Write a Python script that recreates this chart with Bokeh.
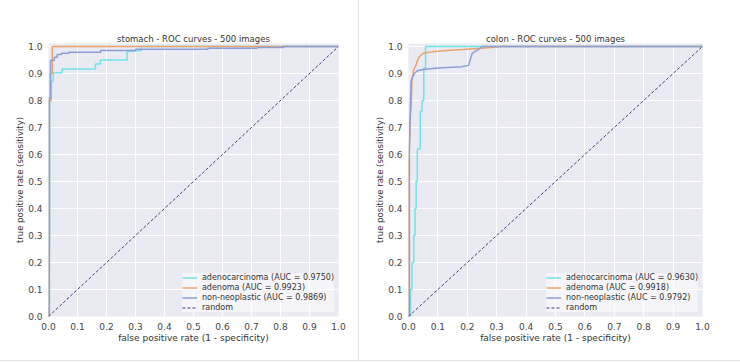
from bokeh.plotting import figure
from bokeh.layouts import row, column
from bokeh.models import FixedTicker, Legend, LegendItem, Spacer, Range1d
from bokeh.embed import file_html
from bokeh.resources import INLINE

# ---------------- data ----------------
tick_values = [0.0, 0.1, 0.2, 0.3, 0.4, 0.5, 0.6, 0.7, 0.8, 0.9, 1.0]
tick_labels = ["0.0", "0.1", "0.2", "0.3", "0.4", "0.5", "0.6", "0.7", "0.8", "0.9", "1.0"]

series_names = ["adenocarcinoma", "adenoma", "non-neoplastic"]

# stomach
stomach_auc = [0.9750, 0.9923, 0.9869]
stomach_adenoca_fpr = [0.0, 0.004, 0.004, 0.010, 0.010, 0.016, 0.016, 0.047, 0.047, 0.162, 0.162, 0.179, 0.179, 0.271, 0.271, 0.32, 0.32, 1.0]
stomach_adenoca_tpr = [0.0, 0.30, 0.80, 0.80, 0.87, 0.87, 0.903, 0.903, 0.917, 0.917, 0.935, 0.935, 0.95, 0.95, 0.98, 0.985, 1.0, 1.0]
stomach_adenoma_fpr = [0.0, 0.002, 0.002, 0.006, 0.006, 0.013, 0.013, 1.0]
stomach_adenoma_tpr = [0.0, 0.03, 0.80, 0.80, 0.90, 0.90, 1.0, 1.0]
stomach_nonneo_fpr = [0.0, 0.003, 0.003, 0.007, 0.007, 0.02, 0.02, 0.03, 0.03, 0.045, 0.045, 0.07, 0.07, 0.18, 0.18, 0.30, 0.30, 0.55, 0.55, 0.72, 0.72, 0.81, 0.81, 1.0]
stomach_nonneo_tpr = [0.0, 0.0, 0.81, 0.81, 0.948, 0.948, 0.96, 0.96, 0.97, 0.97, 0.975, 0.975, 0.979, 0.979, 0.985, 0.985, 0.99, 0.99, 0.993, 0.993, 0.996, 0.996, 1.0, 1.0]

# colon
colon_auc = [0.9630, 0.9918, 0.9792]
colon_adenoca_fpr = [0.0, 0.007, 0.007, 0.012, 0.012, 0.018, 0.018, 0.022, 0.022, 0.026, 0.026, 0.030, 0.030, 0.040, 0.040, 0.046, 0.046, 0.052, 0.052, 0.058, 0.058, 1.0]
colon_adenoca_tpr = [0.0, 0.0, 0.10, 0.10, 0.20, 0.20, 0.30, 0.30, 0.40, 0.40, 0.50, 0.50, 0.62, 0.62, 0.76, 0.76, 0.80, 0.80, 0.92, 0.92, 1.0, 1.0]
colon_adenoma_fpr = [0.0, 0.0, 0.003, 0.005, 0.009, 0.012, 0.017, 0.025, 0.035, 0.05, 0.08, 0.13, 0.20, 0.27, 0.32, 1.0]
colon_adenoma_tpr = [0.0, 0.55, 0.62, 0.72, 0.78, 0.88, 0.91, 0.93, 0.96, 0.975, 0.98, 0.985, 0.99, 0.995, 1.0, 1.0]
colon_nonneo_fpr = [0.0, 0.003, 0.003, 0.007, 0.009, 0.02, 0.03, 0.05, 0.10, 0.18, 0.204, 0.217, 0.24, 0.25, 1.0]
colon_nonneo_tpr = [0.0, 0.0, 0.62, 0.80, 0.875, 0.90, 0.91, 0.915, 0.92, 0.925, 0.93, 0.975, 0.99, 1.0, 1.0]

random_x = [0.0, 1.0]
random_y = [0.0, 1.0]

colors = ["#74e2e6", "#eba36d", "#8d9dd6"]
random_color = "#3b3f7e"
FONT = "DejaVu Sans"
FIG_H = 360


def make_panel(title, curves, aucs, width, left, right):
    p = figure(width=width, height=FIG_H, output_backend="svg", toolbar_location=None,
               x_range=Range1d(0, 1.0), y_range=Range1d(0, 1.011),
               min_border_left=left, min_border_right=right,
               min_border_top=43, min_border_bottom=FIG_H - 316,
               background_fill_color="#eaeaf2", border_fill_color="white")
    p.outline_line_color = None
    p.title.text = title
    p.title.text_font = FONT
    p.title.text_font_size = "8.5px"
    p.title.text_font_style = "normal"
    p.title.text_color = "#333333"
    p.title.align = "center"
    p.title.standoff = 0
    for ax in (p.xaxis[0], p.yaxis[0]):
        ax.ticker = FixedTicker(ticks=tick_values)
        ax.major_label_overrides = {v: l for v, l in zip(tick_values, tick_labels)}
        ax.major_tick_line_color = None
        ax.minor_tick_line_color = None
        ax.axis_line_color = None
        ax.major_label_text_font = FONT
        ax.major_label_text_font_size = "9px"
        ax.major_label_text_color = "#444444"
        ax.axis_label_text_font = FONT
        ax.axis_label_text_font_style = "normal"
        ax.axis_label_text_color = "#333333"
    p.xaxis.major_label_standoff = 0
    p.xaxis.axis_label_standoff = 0
    p.yaxis.major_label_standoff = 0
    p.yaxis.axis_label_standoff = 0
    p.xaxis.axis_label_text_font_size = "9px"
    p.yaxis.axis_label_text_font_size = "8.5px"
    p.xaxis.axis_label = "false positive rate (1 - specificity)"
    p.yaxis.axis_label = "true positive rate (sensitivity)"
    p.grid.grid_line_color = "white"
    p.grid.grid_line_width = 1
    p.xgrid.ticker = FixedTicker(ticks=tick_values)
    p.ygrid.ticker = FixedTicker(ticks=tick_values)

    items = []
    for (fx, ty), auc, name, c in zip(curves, aucs, series_names, colors):
        r = p.line(fx, ty, line_color=c, line_width=1.5)
        items.append(LegendItem(label="%s (AUC = %.4f)" % (name, auc), renderers=[r]))
    rr = p.line(random_x, random_y, line_color=random_color, line_width=1, line_dash="3 2")
    items.append(LegendItem(label="random", renderers=[rr]))

    leg = Legend(items=items, location="bottom_right")
    leg.label_text_font = FONT
    leg.label_text_font_size = "8px"
    leg.label_text_color = "#333333"
    leg.glyph_width = 15
    leg.glyph_height = 9
    leg.label_height = 9
    leg.label_standoff = 5
    leg.spacing = 1
    leg.padding = 4
    leg.margin = 4
    leg.background_fill_color = "white"
    leg.background_fill_alpha = 0.5
    leg.border_line_color = None
    p.add_layout(leg)
    return p


p1 = make_panel("stomach - ROC curves - 500 images",
                [(stomach_adenoca_fpr, stomach_adenoca_tpr),
                 (stomach_adenoma_fpr, stomach_adenoma_tpr),
                 (stomach_nonneo_fpr, stomach_nonneo_tpr)],
                stomach_auc, 358, 48, 20)
sep = Spacer(width=1, height=FIG_H, styles={"background-color": "#e2e2e2"})
p2 = make_panel("colon - ROC curves - 500 images",
                [(colon_adenoca_fpr, colon_adenoca_tpr),
                 (colon_adenoma_fpr, colon_adenoma_tpr),
                 (colon_nonneo_fpr, colon_nonneo_tpr)],
                colon_auc, 381, 49, 38)
bottom = Spacer(width=740, height=1, styles={"background-color": "#e2e2e2"})

layout = column(row(p1, sep, p2, spacing=0), bottom, spacing=0)
open("out.html", "w").write(file_html(layout, INLINE))
